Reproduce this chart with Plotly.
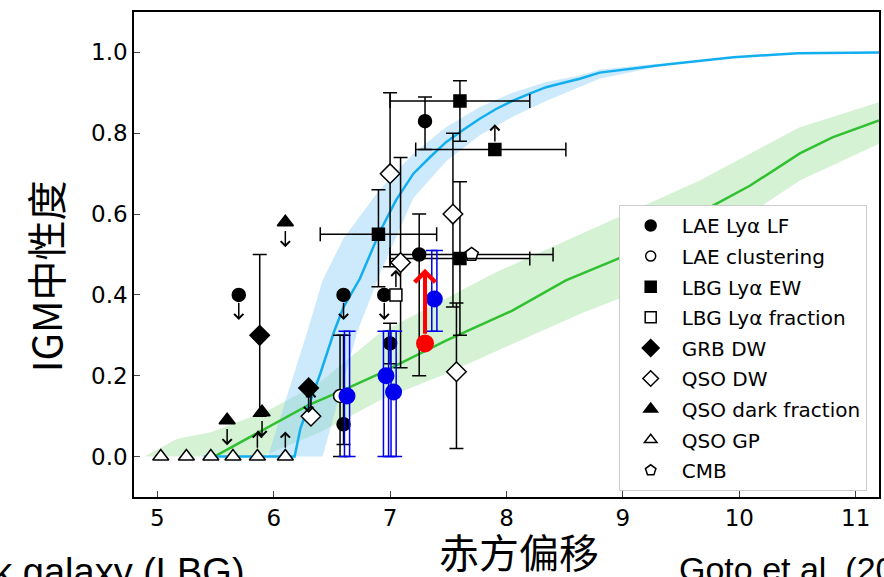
import plotly.graph_objects as go

# ---------------- reionisation history models ----------------
blue_z = [5.40, 6.18, 6.23, 6.40, 6.52, 6.60, 6.74, 6.91, 7.05, 7.20, 7.34, 7.48,
          7.62, 7.77, 7.91, 8.05, 8.20, 8.34, 8.49, 8.63, 8.80, 9.37, 9.95, 10.50, 11.20]
blue_xhi = [0.0, 0.0, 0.07, 0.205, 0.31, 0.37, 0.44, 0.555, 0.634, 0.70, 0.74, 0.778,
            0.807, 0.836, 0.86, 0.88, 0.898, 0.914, 0.925, 0.935, 0.95, 0.97, 0.988, 0.998, 1.0]
blue_up_z = [5.95, 6.29, 6.42, 6.60, 6.91, 7.20, 7.48, 7.77, 8.05, 8.34, 8.63, 8.80, 9.30]
blue_up_x = [0.0, 0.31, 0.436, 0.54, 0.66, 0.75, 0.815, 0.865, 0.90, 0.927, 0.943, 0.958, 0.972]
blue_lo_z = [6.42, 6.72, 6.91, 7.20, 7.48, 7.77, 8.05, 8.34, 8.63, 8.80, 9.30]
blue_lo_x = [0.0, 0.31, 0.45, 0.64, 0.73, 0.795, 0.84, 0.88, 0.914, 0.935, 0.965]

green_z = [5.49, 5.95, 6.29, 6.64, 6.91, 7.48, 8.05, 8.51, 8.96, 9.40, 9.75,
           10.09, 10.52, 10.80, 11.20]
green_xhi = [0.0, 0.073, 0.126, 0.17, 0.205, 0.287, 0.361, 0.436, 0.49, 0.56, 0.617,
             0.67, 0.75, 0.79, 0.832]
green_up_z = [4.89, 5.17, 5.46, 5.95, 6.38, 6.91, 7.91, 8.96, 9.66, 10.52, 11.20]
green_up_x = [0.0, 0.044, 0.06, 0.114, 0.18, 0.305, 0.456, 0.593, 0.683, 0.815, 0.877]
green_lo_z = [4.89, 5.90, 6.40, 6.91, 7.48, 8.05, 8.63, 8.96, 9.75, 10.52, 11.20]
green_lo_x = [0.0, 0.0, 0.06, 0.139, 0.205, 0.279, 0.353, 0.39, 0.535, 0.683, 0.774]

# ---------------- literature constraints ----------------
lae_lf_z = [6.60, 7.00, 7.25, 7.30]
lae_lf_x = [0.08, 0.28, 0.50, 0.83]
lae_lf_ep = [0.22, 0.05, 0.10, 0.06]
lae_lf_em = [0.05, 0.05, 0.30, 0.07]
lae_lf_ul_z = [5.70, 6.60, 6.95]
lae_lf_ul_x = [0.40, 0.40, 0.40]

lae_cl_z = [6.57]
lae_cl_x = [0.15]
lae_cl_e = [0.15]

lbg_ew_z = [6.90, 7.60, 7.60]
lbg_ew_x = [0.55, 0.88, 0.49]
lbg_ew_ep = [0.11, 0.05, 0.19]
lbg_ew_em = [0.13, 0.10, 0.19]
lbg_ew_dz = [0.50, 0.60, 0.60]
lbg_ew_ll_z = [7.90]
lbg_ew_ll_x = [0.76]
lbg_ew_ll_dzp = [0.61]
lbg_ew_ll_dzm = [0.68]

lbg_frac_ll_z = [7.05]
lbg_frac_ll_x = [0.40]

grb_z = [5.88]
grb_x = [0.30]
grb_e = [0.20]
grb_ul_z = [6.30]
grb_ul_x = [0.17]

qso_dw_z = [7.00, 7.09, 7.54, 7.57]
qso_dw_x = [0.70, 0.48, 0.60, 0.21]
qso_dw_ep = [0.20, 0.26, 0.20, 0.17]
qso_dw_em = [0.23, 0.26, 0.23, 0.19]
qso_dw_ll_z = [6.32]
qso_dw_ll_x = [0.10]

qso_dark_ul_z = [5.60, 5.90, 6.10]
qso_dark_ul_x = [0.09, 0.11, 0.58]

qso_gp_z = [5.03, 5.25, 5.46, 5.65, 5.86, 6.10]
qso_gp_x = [0.0, 0.0, 0.0, 0.0, 0.0, 0.0]
qso_gp_ll_z = [5.86, 6.10]
qso_gp_ll_x = [0.0, 0.0]

cmb_z = [7.70]
cmb_x = [0.50]
cmb_dz = [0.70]

# this work
new_z = [6.63, 6.965, 7.03, 7.38]
new_x = [0.15, 0.20, 0.16, 0.39]
new_ep = [0.16, 0.11, 0.15, 0.12]
new_em = [0.15, 0.20, 0.16, 0.08]
red_z = [7.30]
red_x = [0.28]
red_lim = [0.465]

legend_names = ["LAE Ly\u03b1 LF", "LAE clustering", "LBG Ly\u03b1 EW", "LBG Ly\u03b1 fraction",
                "GRB DW", "QSO DW", "QSO dark fraction", "QSO GP", "CMB"]

x_ticks = [5, 6, 7, 8, 9, 10, 11]
y_ticks = [0.0, 0.2, 0.4, 0.6, 0.8, 1.0]
y_ticklabels = ["0.0", "0.2", "0.4", "0.6", "0.8", "1.0"]

# ---------------- styling ----------------
BLUE = "#12aef0"
BLUE_BAND = "rgba(135,206,250,0.42)"
GREEN = "#30c030"
GREEN_BAND = "rgba(150,222,150,0.40)"
EB = dict(color="black", thickness=1.5, width=7)
ARROW_LEN = 0.062

fig = go.Figure()


def band(z_up, x_up, z_lo, x_lo, color):
    fig.add_trace(go.Scatter(x=list(z_up) + list(z_lo)[::-1], y=list(x_up) + list(x_lo)[::-1],
                             mode="lines", fill="toself", fillcolor=color,
                             line=dict(width=0), hoverinfo="skip", showlegend=False))


band(green_up_z, green_up_x, green_lo_z, green_lo_x, GREEN_BAND)
band(blue_up_z, blue_up_x, blue_lo_z, blue_lo_x, BLUE_BAND)
fig.add_trace(go.Scatter(x=green_z, y=green_xhi, mode="lines",
                         line=dict(color=GREEN, width=2.5), showlegend=False))
fig.add_trace(go.Scatter(x=blue_z, y=blue_xhi, mode="lines",
                         line=dict(color=BLUE, width=2.5), showlegend=False))


def mk(symbol, fill, size):
    return dict(symbol=symbol, color=fill, size=size, line=dict(color="black", width=1.5))


def pts(z, x, marker, ep=None, em=None, dzp=None, dzm=None):
    kw = {}
    if ep is not None:
        kw["error_y"] = dict(type="data", array=ep, arrayminus=em, symmetric=False, **EB)
    if dzp is not None:
        kw["error_x"] = dict(type="data", array=dzp, arrayminus=dzm, symmetric=False, **EB)
    fig.add_trace(go.Scatter(x=z, y=x, mode="markers", marker=marker, showlegend=False,
                             hoverinfo="x+y", **kw))


arrows = []


def limits(z, x, direction, offset):
    for zi, xi in zip(z, x):
        arrows.append(dict(x=zi, y=xi + direction * ARROW_LEN, ax=zi, ay=xi + direction * offset,
                           xref="x", yref="y", axref="x", ayref="y", text="", showarrow=True,
                           arrowhead=4, arrowsize=1.2, arrowwidth=1.5, arrowcolor="black",
                           standoff=0, startstandoff=0))


# horizontal bars that sit behind the other symbols
pts(cmb_z, cmb_x, mk("pentagon", "white", 14), dzp=cmb_dz, dzm=cmb_dz)
pts(lbg_ew_z, lbg_ew_x, mk("square", "black", 12), lbg_ew_ep, lbg_ew_em, lbg_ew_dz, lbg_ew_dz)
pts(lbg_ew_ll_z, lbg_ew_ll_x, mk("square", "black", 12), dzp=lbg_ew_ll_dzp, dzm=lbg_ew_ll_dzm)
limits(lbg_ew_ll_z, lbg_ew_ll_x, +1, 0.016)

pts(qso_dw_z, qso_dw_x, mk("diamond", "white", 15), qso_dw_ep, qso_dw_em)
pts(qso_dw_ll_z, qso_dw_ll_x, mk("diamond", "white", 15))
limits(qso_dw_ll_z, qso_dw_ll_x, +1, 0.02)

pts(grb_z, grb_x, mk("diamond", "black", 15), grb_e, grb_e)
pts(grb_ul_z, grb_ul_x, mk("diamond", "black", 15))
limits(grb_ul_z, grb_ul_x, -1, 0.02)

pts(lae_cl_z, lae_cl_x, mk("circle", "white", 13), lae_cl_e, lae_cl_e)
pts(lae_lf_z, lae_lf_x, mk("circle", "black", 13), lae_lf_ep, lae_lf_em)
pts(lae_lf_ul_z, lae_lf_ul_x, mk("circle", "black", 13))
limits(lae_lf_ul_z, lae_lf_ul_x, -1, 0.016)

pts(lbg_frac_ll_z, lbg_frac_ll_x, mk("square", "white", 12))
limits(lbg_frac_ll_z, lbg_frac_ll_x, +1, 0.016)

pts(qso_dark_ul_z, qso_dark_ul_x, mk("triangle-up", "black", 14))
limits(qso_dark_ul_z, qso_dark_ul_x, -1, 0.018)

pts(qso_gp_z, qso_gp_x, mk("triangle-up", "white", 14))
limits(qso_gp_ll_z, qso_gp_ll_x, +1, 0.018)

# this work: blue estimates drawn with doubled bars, red lower limit
for shift in (-0.022, 0.022):
    fig.add_trace(go.Scatter(x=[z + shift for z in new_z], y=new_x, mode="markers",
                             marker=dict(size=1, color="rgba(0,0,0,0)"), showlegend=False,
                             hoverinfo="skip",
                             error_y=dict(type="data", array=new_ep, arrayminus=new_em,
                                          symmetric=False, color="#0000ee", thickness=1.5, width=6)))
fig.add_trace(go.Scatter(x=new_z, y=new_x, mode="markers",
                         marker=dict(color="#0000ee", size=17), showlegend=False))
for zi, xi, top in zip(red_z, red_x, red_lim):
    arrows.append(dict(x=zi, y=top, ax=zi, ay=xi + 0.02, xref="x", yref="y", axref="x", ayref="y",
                       text="", showarrow=True, arrowhead=4, arrowsize=1.0, arrowwidth=4,
                       arrowcolor="#ff0000", standoff=0))
fig.add_trace(go.Scatter(x=red_z, y=red_x, mode="markers",
                         marker=dict(color="#ff0000", size=18), showlegend=False))

# legend entries
legend_markers = [mk("circle", "black", 11), mk("circle", "white", 10), mk("square", "black", 11),
                  mk("square", "white", 11), mk("diamond", "black", 13), mk("diamond", "white", 12),
                  mk("triangle-up", "black", 12), mk("triangle-up", "white", 11),
                  mk("pentagon", "white", 11)]
for name, m in zip(legend_names, legend_markers):
    fig.add_trace(go.Scatter(x=[None], y=[None], mode="markers", marker=m, name=name,
                             legendgroup=name))

CJK = "Noto Sans CJK SC"
PLOT_W = 747.0
PLOT_H = 485.0
texts = [
    dict(text="IGM中性度", x=(45 - 134) / PLOT_W, y=(497 - 276) / PLOT_H, xref="paper", yref="paper",
         textangle=-90, xanchor="center", yanchor="middle",
         showarrow=False, font=dict(family=CJK, size=40, color="black")),
    dict(text="赤方偏移", x=(520 - 134) / PLOT_W, y=(497 - 551) / PLOT_H, xref="paper", yref="paper",
         xanchor="center", yanchor="middle", showarrow=False,
         font=dict(family=CJK, size=40, color="black")),
    dict(text="Lyman break galaxy (LBG)", x=(247 - 134) / PLOT_W, y=(497 - 549) / PLOT_H,
         xref="paper", yref="paper", showarrow=False, xanchor="right", yanchor="top",
         font=dict(family="Liberation Sans", size=38, color="black")),
    dict(text="Goto et al. (2021)", x=(678 - 134) / PLOT_W, y=(497 - 548) / PLOT_H,
         xref="paper", yref="paper", showarrow=False, xanchor="left", yanchor="top",
         font=dict(family="Liberation Sans", size=34, color="black")),
]

fig.update_layout(
    width=884, height=577,
    margin=dict(l=134, r=3, t=12, b=80),
    paper_bgcolor="white", plot_bgcolor="white",
    font=dict(family="DejaVu Sans", size=20, color="black"),
    showlegend=True,
    legend=dict(x=(620 - 134) / PLOT_W, y=(497 - 205) / PLOT_H, xanchor="left", yanchor="top",
                bgcolor="white", bordercolor="#cccccc", borderwidth=1,
                font=dict(family="DejaVu Sans", size=20), tracegroupgap=1.6, itemwidth=52),
    annotations=arrows + texts,
)
fig.update_xaxes(range=[4.8, 11.2], tickvals=x_ticks, ticks="inside", ticklen=6, tickwidth=1.2,
                 showline=True, linecolor="black", linewidth=1.5, mirror=True, showgrid=False,
                 zeroline=False, tickfont=dict(family="DejaVu Sans", size=23))
fig.update_yaxes(range=[-0.1, 1.1], tickvals=y_ticks, ticktext=y_ticklabels,
                 ticks="inside", ticklen=6, tickwidth=1.2, showline=True, linecolor="black",
                 linewidth=1.5, mirror=True, showgrid=False, zeroline=False,
                 tickfont=dict(family="DejaVu Sans", size=23))

fig.write_html("out.html")
